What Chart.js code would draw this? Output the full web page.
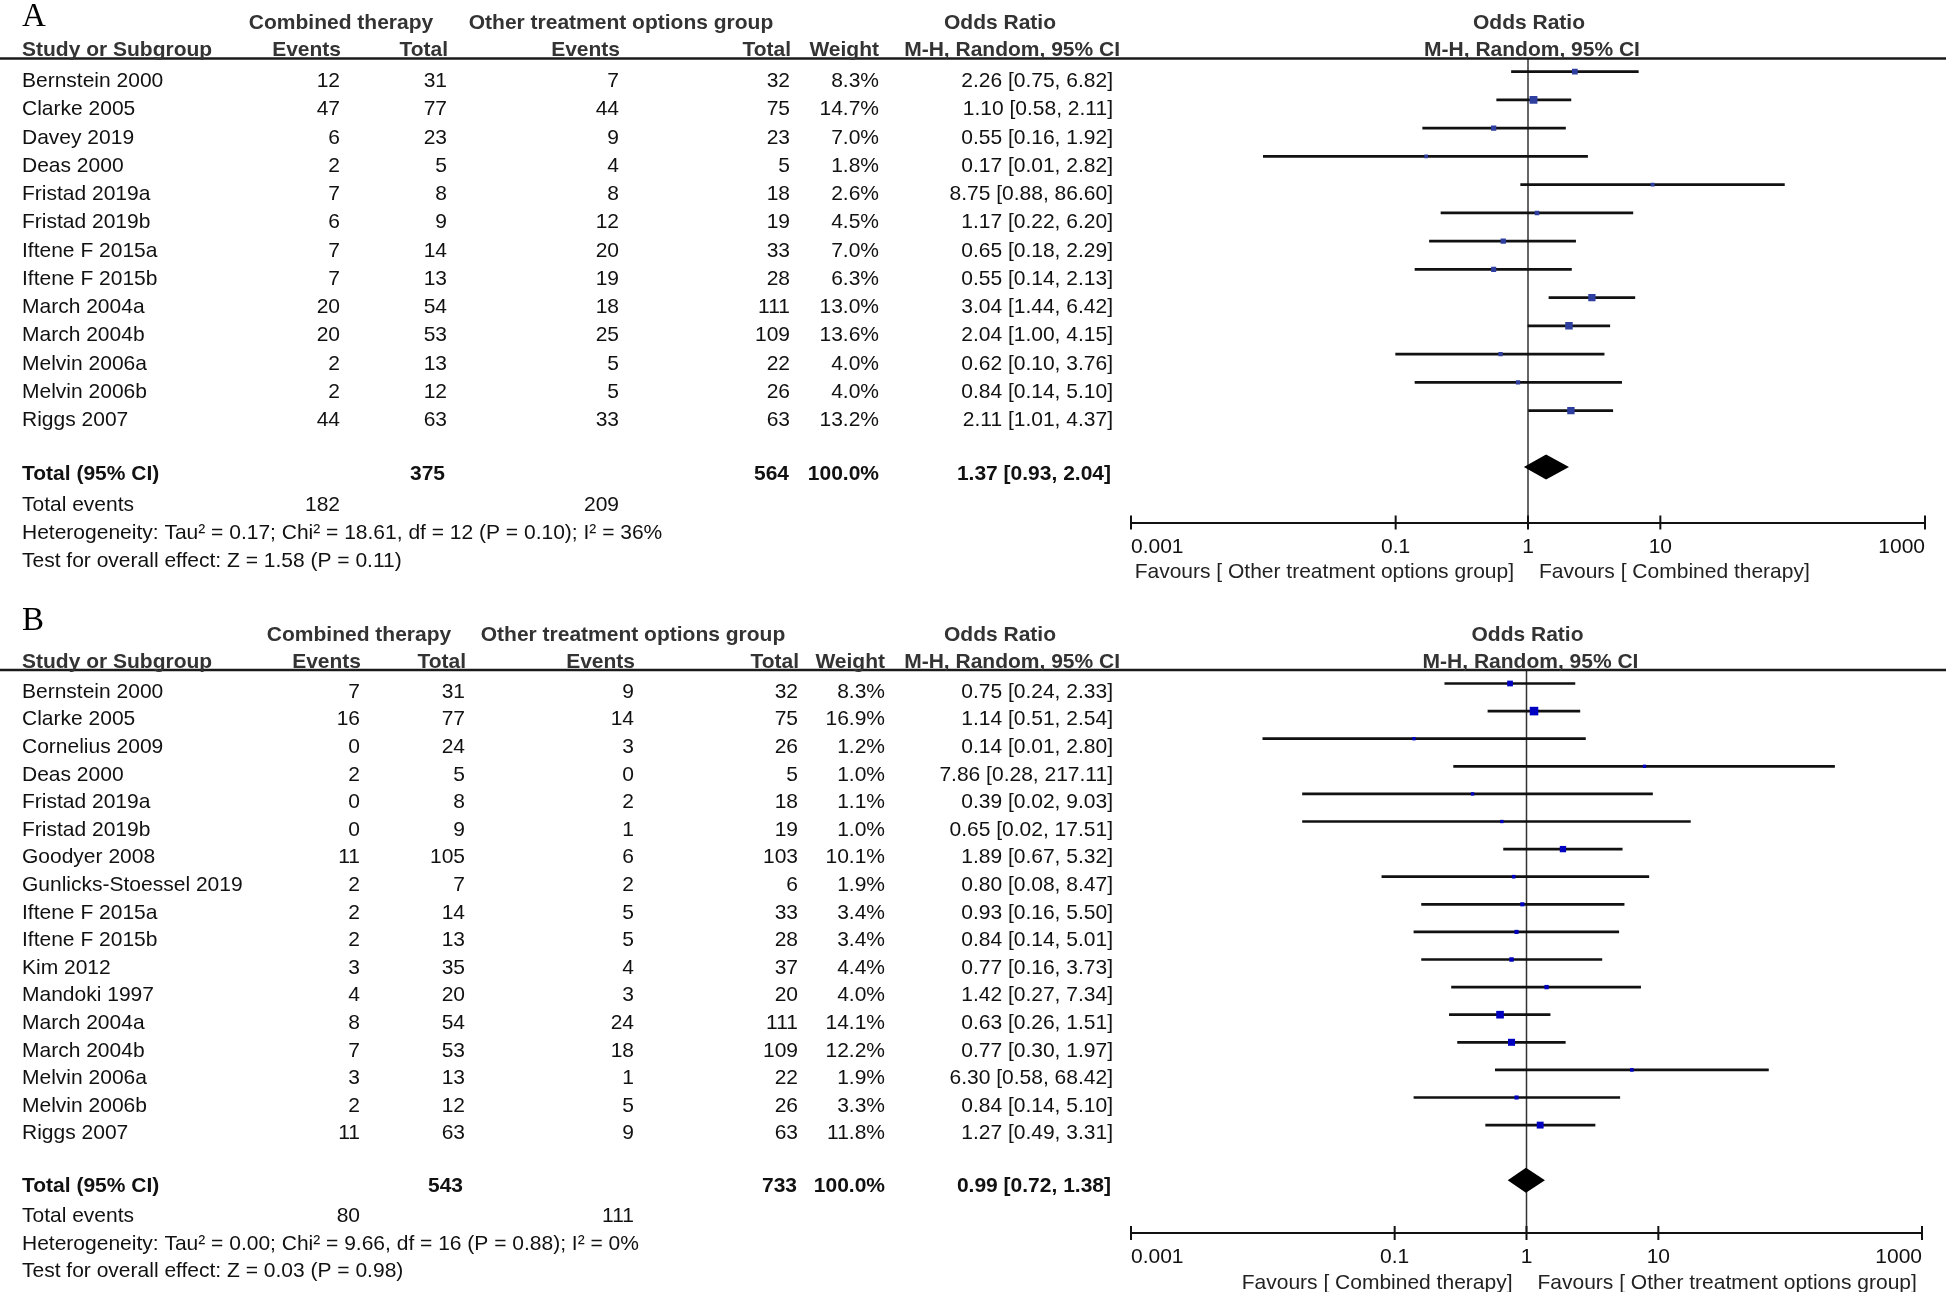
<!DOCTYPE html>
<html><head><meta charset="utf-8">
<script src="https://cdn.jsdelivr.net/npm/chart.js@4.4.1/dist/chart.umd.min.js"></script>
<style>
html,body{margin:0;padding:0;background:#fff;}
#wrap{position:relative;width:1946px;height:1292px;overflow:hidden;background:#fff;}
canvas{position:absolute;left:0;}
</style></head><body>
<div id="wrap">
<canvas id="cA" width="1946" height="600" style="top:0;width:1946px;height:600px"></canvas>
<canvas id="cB" width="1946" height="692" style="top:600px;width:1946px;height:692px"></canvas>
</div>
<script>
// ---------------- Panel A data ----------------
const studiesA = ['Bernstein 2000','Clarke 2005','Davey 2019','Deas 2000','Fristad 2019a','Fristad 2019b','Iftene F 2015a','Iftene F 2015b','March 2004a','March 2004b','Melvin 2006a','Melvin 2006b','Riggs 2007'];
const combEventsA = [12,47,6,2,7,6,7,7,20,20,2,2,44];
const combTotalA = [31,77,23,5,8,9,14,13,54,53,13,12,63];
const otherEventsA = [7,44,9,4,8,12,20,19,18,25,5,5,33];
const otherTotalA = [32,75,23,5,18,19,33,28,111,109,22,26,63];
const weightA = [8.3,14.7,7.0,1.8,2.6,4.5,7.0,6.3,13.0,13.6,4.0,4.0,13.2];
const orA = [2.26,1.10,0.55,0.17,8.75,1.17,0.65,0.55,3.04,2.04,0.62,0.84,2.11];
const loA = [0.75,0.58,0.16,0.01,0.88,0.22,0.18,0.14,1.44,1.00,0.10,0.14,1.01];
const hiA = [6.82,2.11,1.92,2.82,86.60,6.20,2.29,2.13,6.42,4.15,3.76,5.10,4.37];
const totalSubjectsA = [375, 564];
const totalEventsA = [182, 209];
const pooledA = [1.37, 0.93, 2.04];
const hetA = 'Heterogeneity: Tau\u00b2 = 0.17; Chi\u00b2 = 18.61, df = 12 (P = 0.10); I\u00b2 = 36%';
const testA = 'Test for overall effect: Z = 1.58 (P = 0.11)';
const favoursA = ['Favours [ Other treatment options group]', 'Favours [ Combined therapy]'];

// ---------------- Panel B data ----------------
const studiesB = ['Bernstein 2000','Clarke 2005','Cornelius 2009','Deas 2000','Fristad 2019a','Fristad 2019b','Goodyer 2008','Gunlicks-Stoessel 2019','Iftene F 2015a','Iftene F 2015b','Kim 2012','Mandoki 1997','March 2004a','March 2004b','Melvin 2006a','Melvin 2006b','Riggs 2007'];
const combEventsB = [7,16,0,2,0,0,11,2,2,2,3,4,8,7,3,2,11];
const combTotalB = [31,77,24,5,8,9,105,7,14,13,35,20,54,53,13,12,63];
const otherEventsB = [9,14,3,0,2,1,6,2,5,5,4,3,24,18,1,5,9];
const otherTotalB = [32,75,26,5,18,19,103,6,33,28,37,20,111,109,22,26,63];
const weightB = [8.3,16.9,1.2,1.0,1.1,1.0,10.1,1.9,3.4,3.4,4.4,4.0,14.1,12.2,1.9,3.3,11.8];
const orB = [0.75,1.14,0.14,7.86,0.39,0.65,1.89,0.80,0.93,0.84,0.77,1.42,0.63,0.77,6.30,0.84,1.27];
const loB = [0.24,0.51,0.01,0.28,0.02,0.02,0.67,0.08,0.16,0.14,0.16,0.27,0.26,0.30,0.58,0.14,0.49];
const hiB = [2.33,2.54,2.80,217.11,9.03,17.51,5.32,8.47,5.50,5.01,3.73,7.34,1.51,1.97,68.42,5.10,3.31];
const totalSubjectsB = [543, 733];
const totalEventsB = [80, 111];
const pooledB = [0.99, 0.72, 1.38];
const hetB = 'Heterogeneity: Tau\u00b2 = 0.00; Chi\u00b2 = 9.66, df = 16 (P = 0.88); I\u00b2 = 0%';
const testB = 'Test for overall effect: Z = 0.03 (P = 0.98)';
const favoursB = ['Favours [ Combined therapy]', 'Favours [ Other treatment options group]'];

// ---------------- axis ticks ----------------
const xTicks = [0.001, 0.1, 1, 10, 1000];
const xTickLabels = ['0.001', '0.1', '1', '10', '1000'];

// ---------------- layout / style (not data) ----------------
const FONT = '"Liberation Sans", Arial, Helvetica, sans-serif';
const SERIF = '"Liberation Serif", "Times New Roman", serif';
const FS = 21;

const panelA = {
  label: 'A', studies: studiesA, ce: combEventsA, ct: combTotalA, oe: otherEventsA, ot: otherTotalA,
  w: weightA, or: orA, lo: loA, hi: hiA, tot: totalSubjectsA, ev: totalEventsA, pooled: pooledA,
  het: hetA, test: testA, fav: favoursA
};
const panelB = {
  label: 'B', studies: studiesB, ce: combEventsB, ct: combTotalB, oe: otherEventsB, ot: otherTotalB,
  w: weightB, or: orB, lo: loB, hi: hiB, tot: totalSubjectsB, ev: totalEventsB, pooled: pooledB,
  het: hetB, test: testB, fav: favoursB
};

const layoutA = {
  top: 0, height: 600, areaTop: 58.5, axisY: 522.5, row0: 71.7, rowSp: 28.24, textOff: 9.7,
  xLeft: 1131, xRight: 1925,
  labelY: 17, h1: 23, h2: 50, sq: '#2f3f9f',
  cols: {name: 22, ce: 340, ct: 447, oe: 619, ot: 790, w: 879, or: 1113},
  h1cols: {comb: 341, other: 621, or: 1000}
};
const layoutB = {
  top: 600, height: 692, areaTop: 670, axisY: 1233, row0: 683.5, rowSp: 27.6, textOff: 8.5,
  xLeft: 1131, xRight: 1922,
  labelY: 621, h1: 635, h2: 662, sq: '#0000c0',
  cols: {name: 22, ce: 360, ct: 465, oe: 634, ot: 798, w: 885, or: 1113},
  h1cols: {comb: 359, other: 633, or: 1000}
};

function txt(ctx, s, x, y, align, bold, color, font, size) {
  ctx.font = (bold ? 'bold ' : '') + (size || FS) + 'px ' + (font || FONT);
  ctx.fillStyle = color || '#111';
  ctx.textAlign = align;
  ctx.textBaseline = 'middle';
  ctx.fillText(String(s), x, y);
}
const f2 = v => v.toFixed(2);
const orText = (o, l, h) => f2(o) + ' [' + f2(l) + ', ' + f2(h) + ']';

function forestPlugin(P, L) {
  const n = P.studies.length;
  return {
    id: 'forest' + P.label,
    beforeDatasetsDraw(chart) {
      const {ctx, chartArea: a, scales: {x}} = chart;
      const x1 = x.getPixelForValue(1);
      ctx.save();
      ctx.strokeStyle = '#333'; ctx.lineWidth = 1.5;
      ctx.beginPath(); ctx.moveTo(x1, a.top); ctx.lineTo(x1, a.bottom); ctx.stroke();
      ctx.restore();
    },
    afterDatasetsDraw(chart) {
      const {ctx, scales: {x, y}} = chart;
      const yc = y.getPixelForValue(n + 1);
      const hh = 12.5;
      ctx.save();
      ctx.fillStyle = '#000';
      ctx.beginPath();
      ctx.moveTo(x.getPixelForValue(P.pooled[1]), yc);
      ctx.lineTo(x.getPixelForValue(P.pooled[0]), yc - hh);
      ctx.lineTo(x.getPixelForValue(P.pooled[2]), yc);
      ctx.lineTo(x.getPixelForValue(P.pooled[0]), yc + hh);
      ctx.closePath(); ctx.fill();
      ctx.restore();
    },
    afterDraw(chart) {
      const {ctx, chartArea: a, scales: {x, y}} = chart;
      const off = L.top;
      const C = L.cols;
      const ty = r => y.getPixelForValue(r) + L.textOff;
      ctx.save();
      // tick marks crossing axis
      ctx.strokeStyle = '#111'; ctx.lineWidth = 2;
      xTicks.forEach(v => {
        const px = x.getPixelForValue(v);
        ctx.beginPath(); ctx.moveTo(px, a.bottom - 7); ctx.lineTo(px, a.bottom + 7); ctx.stroke();
      });
      // header rule
      ctx.strokeStyle = '#1a1a1a'; ctx.lineWidth = 2.5;
      ctx.beginPath(); ctx.moveTo(0, a.top); ctx.lineTo(1946, a.top); ctx.stroke();

      // panel letter
      txt(ctx, P.label, 22, L.labelY - off, 'left', false, '#000', SERIF, 33);
      // header line 1
      const h1 = L.h1 - off, h2 = L.h2 - off, HC = '#333';
      txt(ctx, 'Combined therapy', L.h1cols.comb, h1, 'center', true, HC);
      txt(ctx, 'Other treatment options group', L.h1cols.other, h1, 'center', true, HC);
      txt(ctx, 'Odds Ratio', L.h1cols.or, h1, 'center', true, HC);
      const x1 = x.getPixelForValue(1);
      txt(ctx, 'Odds Ratio', x1 + 1, h1, 'center', true, HC);
      // header line 2
      txt(ctx, 'Study or Subgroup', C.name, h2, 'left', true, HC);
      txt(ctx, 'Events', C.ce + 1, h2, 'right', true, HC);
      txt(ctx, 'Total', C.ct + 1, h2, 'right', true, HC);
      txt(ctx, 'Events', C.oe + 1, h2, 'right', true, HC);
      txt(ctx, 'Total', C.ot + 1, h2, 'right', true, HC);
      txt(ctx, 'Weight', C.w, h2, 'right', true, HC);
      txt(ctx, 'M-H, Random, 95% CI', 1120, h2, 'right', true, HC);
      txt(ctx, 'M-H, Random, 95% CI', x1 + 4, h2, 'center', true, HC);

      // study rows
      for (let i = 0; i < n; i++) {
        const yy = ty(i);
        txt(ctx, P.studies[i], C.name, yy, 'left');
        txt(ctx, P.ce[i], C.ce, yy, 'right');
        txt(ctx, P.ct[i], C.ct, yy, 'right');
        txt(ctx, P.oe[i], C.oe, yy, 'right');
        txt(ctx, P.ot[i], C.ot, yy, 'right');
        txt(ctx, P.w[i].toFixed(1) + '%', C.w, yy, 'right');
        txt(ctx, orText(P.or[i], P.lo[i], P.hi[i]), C.or, yy, 'right');
      }
      // totals
      const yt = ty(n + 0.9);
      txt(ctx, 'Total (95% CI)', C.name, yt, 'left', true);
      txt(ctx, P.tot[0], C.ct - 2, yt, 'right', true);
      txt(ctx, P.tot[1], C.ot - 1, yt, 'right', true);
      txt(ctx, '100.0%', C.w, yt, 'right', true);
      txt(ctx, orText(P.pooled[0], P.pooled[1], P.pooled[2]), C.or - 2, yt, 'right', true);
      const ye = ty(n + 2);
      txt(ctx, 'Total events', C.name, ye, 'left');
      txt(ctx, P.ev[0], C.ce, ye, 'right');
      txt(ctx, P.ev[1], C.oe, ye, 'right');
      txt(ctx, P.het, C.name, ty(n + 3), 'left');
      txt(ctx, P.test, C.name, ty(n + 4), 'left');

      // favours labels
      const yf = a.bottom + 50;
      txt(ctx, P.fav[0], x1 - 14, yf, 'right', false, '#222');
      txt(ctx, P.fav[1], x1 + 11, yf, 'left', false, '#222');
      ctx.restore();
    }
  };
}

function makeChart(id, P, L) {
  const ciData = P.studies.map((_, i) => ({x: [P.lo[i], P.hi[i]], y: i}));
  const ptData = P.studies.map((_, i) => ({x: P.or[i], y: i}));
  const yMin = (L.areaTop - L.row0) / L.rowSp;
  const yMax = (L.axisY - L.row0) / L.rowSp;
  const sqR = ctx => (3 + 0.33 * P.w[ctx.dataIndex]) / Math.SQRT2;
  return new Chart(document.getElementById(id), {
    type: 'bar',
    data: {
      datasets: [
        {type: 'scatter', data: ptData, pointStyle: 'rect', pointRadius: sqR, pointHoverRadius: sqR,
         backgroundColor: L.sq, borderColor: L.sq, borderWidth: 0, order: 0},
        {type: 'bar', data: ciData, backgroundColor: '#111', borderWidth: 0, barThickness: 2,
         grouped: false, order: 1}
      ]
    },
    options: {
      indexAxis: 'y', responsive: false, animation: false, devicePixelRatio: 1, events: [],
      layout: {padding: {left: L.xLeft, right: 1946 - L.xRight, top: L.areaTop - L.top, bottom: 0}},
      plugins: {legend: {display: false}, tooltip: {enabled: false}, title: {display: false}},
      scales: {
        x: {
          type: 'logarithmic', min: 0.001, max: 1000, position: 'bottom', offset: false, beginAtZero: false,
          afterBuildTicks: s => { s.ticks = xTicks.map(v => ({value: v})); },
          afterFit: s => { s.height = L.height - (L.axisY - L.top); s.paddingLeft = 0; s.paddingRight = 0; },
          grid: {drawOnChartArea: false, drawTicks: false},
          border: {display: true, color: '#111', width: 2},
          ticks: {autoSkip: false, maxRotation: 0, minRotation: 0, align: 'inner', padding: 12,
                  color: '#111', font: {family: FONT, size: FS}, callback: (v, i) => xTickLabels[i]}
        },
        y: {type: 'linear', reverse: true, min: yMin, max: yMax, display: false, offset: false,
            grid: {display: false}}
      }
    },
    plugins: [forestPlugin(P, L)]
  });
}

makeChart('cA', panelA, layoutA);
makeChart('cB', panelB, layoutB);
</script>
</body></html>
